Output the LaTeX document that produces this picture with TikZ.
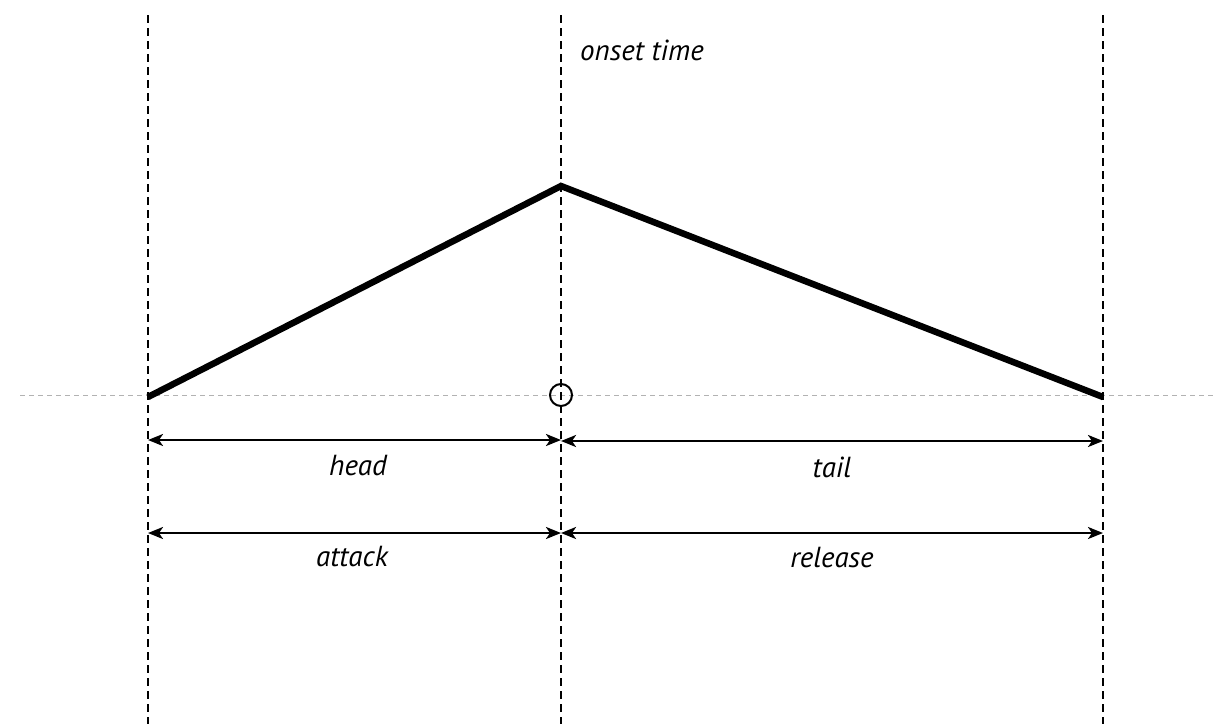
\documentclass[tikz,border=0pt]{standalone}
\usepackage{fontspec}
\setmainfont{PT Sans}
\usetikzlibrary{arrows.meta}
\begin{document}
\begin{tikzpicture}[x=1pt,y=-1pt,
  vline/.style={draw=black,line width=1.8pt,dash pattern=on 8pt off 5pt},
  baseline/.style={draw=black!30,line width=1pt,dash pattern=on 5pt off 4pt},
  env/.style={draw=black,line width=6.5pt,line join=miter},
  span/.style={draw=black,line width=2.4pt,{Stealth[length=15pt,width=12pt,inset=4pt]}-{Stealth[length=15pt,width=12pt,inset=4pt]}},
  lbl/.style={font=\fontsize{29}{33}\selectfont\itshape,inner sep=0pt}]
\useasboundingbox (0,0) rectangle (1221,724);
\coordinate (lt) at (148,15); \coordinate (lb) at (148,724);
\coordinate (mt) at (561,15); \coordinate (mb) at (561,724);
\coordinate (rt) at (1103,15); \coordinate (rb) at (1103,724);
\coordinate (bl) at (20,395); \coordinate (br) at (1215,395);
\draw[baseline] (bl) -- (br);
\draw[vline] (lt) -- (lb);
\draw[vline] (mt) -- (mb);
\draw[vline] (rt) -- (rb);
\coordinate (s) at (148,397); \coordinate (p) at (561,186); \coordinate (e) at (1103,397);
\draw[env] (s) -- (p) -- (e);
\node[draw=black,line width=2pt,circle,minimum size=22pt,inner sep=0pt] (o) at (561,395) {};
\coordinate (h1) at (148,440); \coordinate (h2) at (561,440);
\coordinate (t1) at (561,441); \coordinate (t2) at (1103,441);
\coordinate (a1) at (148,533); \coordinate (a2) at (561,533);
\coordinate (r1) at (561,533); \coordinate (r2) at (1103,533);
\draw[span] (h1) -- (h2);
\draw[span] (t1) -- (t2);
\draw[span] (a1) -- (a2);
\draw[span] (r1) -- (r2);
\node[lbl] (head) at (358,466) {head};
\node[lbl] (tail) at (832,467) {tail};
\node[lbl] (attack) at (352,557) {attack};
\node[lbl] (release) at (832,558) {release};
\node[lbl,anchor=west] (onset) at (580,50) {onset time};
\end{tikzpicture}
\end{document}
